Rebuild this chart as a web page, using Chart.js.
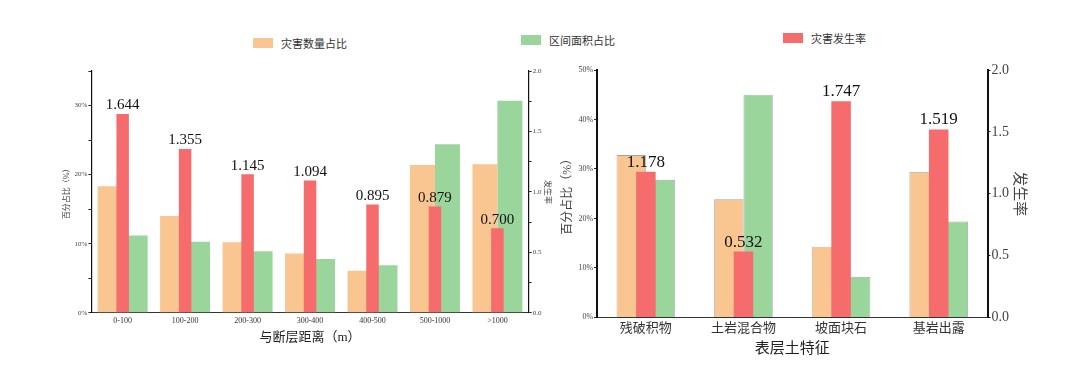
<!DOCTYPE html>
<html>
<head>
<meta charset="utf-8">
<script src="https://cdn.jsdelivr.net/npm/chart.js@4.4.1/dist/chart.umd.min.js"></script>
<style>
  html, body { margin: 0; padding: 0; background: #fff; }
  body { width: 1080px; height: 379px; position: relative; overflow: hidden;
         font-family: 'Liberation Serif', 'Noto Sans CJK SC', serif; }
  .box { position: absolute; }
  .legend-item { position: absolute; display: flex; align-items: center; font-size: 11px; color: #333; }
  .legend-item i { display: inline-block; width: 20px; height: 10px; margin-right: 8px; }
</style>
</head>
<body>
<div class="legend-item" style="left:253px; top:35px;"><i style="background:#F9C590"></i>灾害数量占比</div>
<div class="legend-item" style="left:521px; top:32px;"><i style="background:#9AD59B"></i>区间面积占比</div>
<div class="legend-item" style="left:783px; top:30px;"><i style="background:#F66B6B"></i>灾害发生率</div>

<div class="box" style="left:0; top:55px; width:560px; height:310px;"><canvas id="distChart"></canvas></div>
<div class="box" style="left:540px; top:53px; width:540px; height:310px;"><canvas id="soilChart"></canvas></div>

<script>
const $ = id => document.getElementById(id);

// 与断层距离
const distLabels = ['0-100', '100-200', '200-300', '300-400', '400-500', '500-1000', '>1000'];
const distCount  = [18.3, 14.0, 10.2, 8.6, 6.1, 21.4, 21.5];   // 灾害数量占比 %
const distArea   = [11.2, 10.3, 8.9, 7.8, 6.9, 24.4, 30.7];    // 区间面积占比 %
const distRate   = [1.644, 1.355, 1.145, 1.094, 0.895, 0.879, 0.700];

// 表层土特征
const soilLabels = ['残破积物', '土岩混合物', '坡面块石', '基岩出露'];
const soilCount  = [32.8, 23.9, 14.3, 29.4];
const soilArea   = [27.8, 45.0, 8.2, 19.4];
const soilRate   = [1.178, 0.532, 1.747, 1.519];

const C_ORANGE = '#F9C590';
const C_GREEN  = '#9AD59B';
const C_RED    = '#F66B6B';
const FONT = "'Liberation Serif', 'Noto Sans CJK SC', serif";

Chart.defaults.font.family = FONT;
Chart.defaults.color = '#333';

// rate values above the red bars
const rateLabels = {
  id: 'rateLabels',
  afterDatasetsDraw(chart, args, opts) {
    const ctx = chart.ctx;
    const idx = chart.data.datasets.findIndex(d => d.rate);
    const meta = chart.getDatasetMeta(idx);
    ctx.save();
    ctx.font = opts.size + 'px ' + FONT;
    ctx.fillStyle = '#111';
    ctx.textAlign = 'center';
    ctx.textBaseline = 'bottom';
    meta.data.forEach((bar, i) => {
      ctx.fillText(chart.data.datasets[idx].data[i].toFixed(3), bar.x, bar.y - 1);
    });
    ctx.restore();
  }
};

function makeChart(id, labels, count, area, rate, cfg) {
  const edge = cfg.edge ? { borderWidth: 0.8, borderColor: 'rgba(90,90,90,0.55)' } : { borderWidth: 0 };
  return new Chart($(id), {
    type: 'bar',
    data: {
      labels,
      datasets: [
        { label: '灾害数量占比', data: count, backgroundColor: C_ORANGE, yAxisID: 'y', order: 1,
          categoryPercentage: cfg.pair, barPercentage: 1, ...edge },
        { label: '区间面积占比', data: area, backgroundColor: C_GREEN, yAxisID: 'y', order: 1,
          categoryPercentage: cfg.pair, barPercentage: 1, ...edge },
        { label: '灾害发生率', data: rate, backgroundColor: C_RED, yAxisID: 'y1', order: 0, rate: true,
          grouped: false, categoryPercentage: 0.2, barPercentage: 1, borderWidth: 0 }
      ]
    },
    plugins: [rateLabels],
    options: {
      responsive: true,
      maintainAspectRatio: false,
      animation: false,
      layout: { padding: cfg.padding },
      plugins: {
        legend: { display: false },
        tooltip: { enabled: false },
        rateLabels: { size: cfg.valueSize }
      },
      scales: {
        x: {
          grid: { display: false, drawTicks: false },
          border: { display: true, color: '#333', width: 1 },
          ticks: { font: { size: cfg.xTick }, color: '#333', padding: cfg.xPad },
          title: { display: true, text: cfg.xTitle, font: { size: cfg.xTitleSize }, color: '#222', padding: { top: 1, bottom: 0 } }
        },
        y: {
          position: 'left',
          min: 0, max: cfg.yMax,
          ticks: { stepSize: cfg.yStep, font: { size: cfg.yTick }, color: '#444', padding: 1,
                   callback: v => v % 10 === 0 ? v + '%' : '' },
          grid: { drawOnChartArea: false, drawTicks: true, tickLength: 3, color: '#222' },
          border: { display: true, color: '#111', width: cfg.axisW },
          title: { display: true, text: '百分占比（%）', font: { size: cfg.yTitleSize }, color: '#444', padding: { top: 0, bottom: 2 } }
        },
        y1: {
          position: 'right',
          min: 0, max: 2,
          ticks: { stepSize: cfg.y1Step, font: { size: cfg.y1Tick }, color: '#444', padding: 1,
                   callback: v => Math.abs(v * 2 - Math.round(v * 2)) < 1e-6 ? v.toFixed(1) : '' },
          grid: { drawOnChartArea: false, drawTicks: true, tickLength: 3, color: '#222' },
          border: { display: true, color: '#111', width: cfg.axisW },
          title: { display: true, text: '发生率', font: { size: cfg.y1TitleSize }, color: '#444', padding: { top: 0, bottom: 0 } }
        }
      }
    }
  });
}

makeChart('distChart', distLabels, distCount, distArea, distRate, {
  pair: 0.8, edge: false, yMax: 35, yStep: 5, y1Step: 0.25,
  xTick: 8, xPad: 3, yTick: 7, y1Tick: 7, xTitle: '与断层距离（m）', xTitleSize: 13,
  yTitleSize: 8, y1TitleSize: 8, valueSize: 15, axisW: 1.2,
  padding: { left: 62, right: 8, top: 16, bottom: 20 }
});

makeChart('soilChart', soilLabels, soilCount, soilArea, soilRate, {
  pair: 0.6, edge: true, yMax: 50, yStep: 10, y1Step: 0.5,
  xTick: 13, xPad: 3, yTick: 8, y1Tick: 14, xTitle: '表层土特征', xTitleSize: 15,
  yTitleSize: 12, y1TitleSize: 15, valueSize: 17, axisW: 2,
  padding: { left: 21, right: 52, top: 17, bottom: 5 }
});
</script>
</body>
</html>
